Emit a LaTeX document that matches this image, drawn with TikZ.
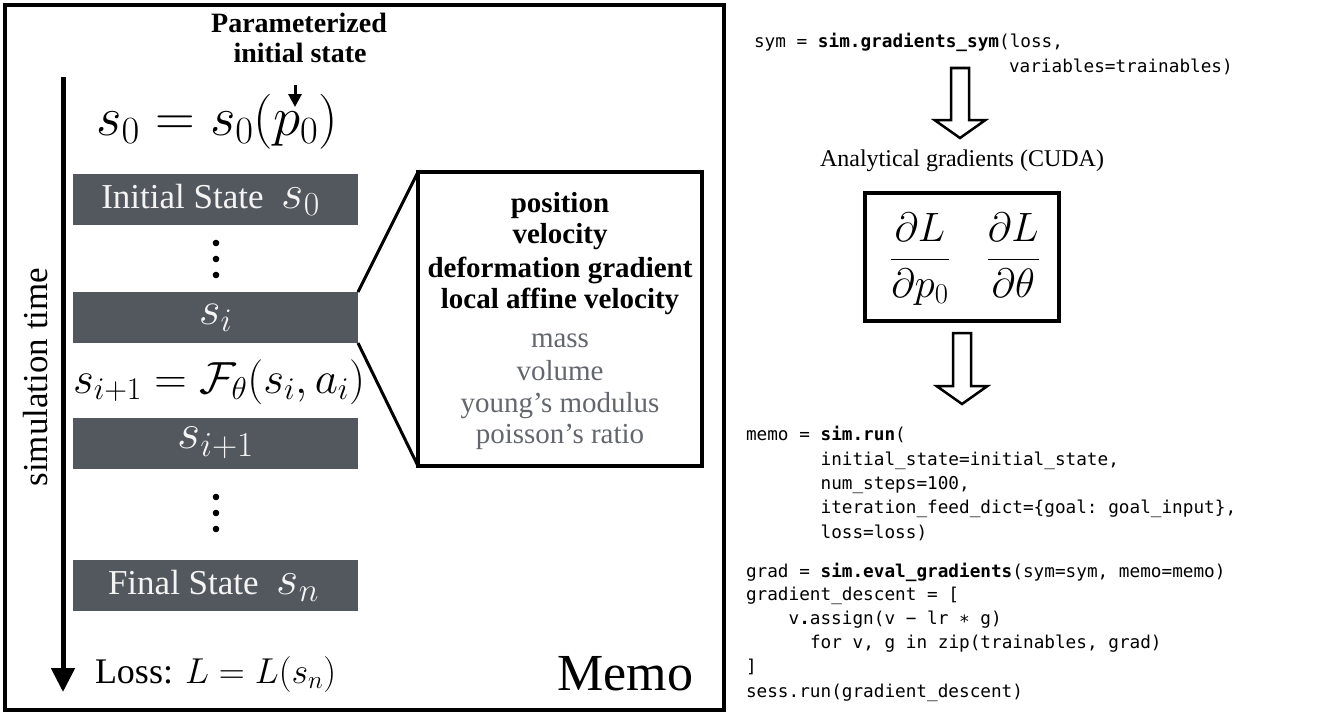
\RequirePackage{fix-cm}
\documentclass[tikz,border=0pt]{standalone}
\usepackage[no-math]{fontspec}
\setmainfont{Liberation Serif}
\setmonofont{DejaVu Sans Mono}
\usetikzlibrary{calc,arrows.meta}
\definecolor{boxgray}{HTML}{53575E}
\definecolor{softgray}{HTML}{63676D}
\definecolor{boxtext}{HTML}{F4F4F4}
\newcommand\fsz[1]{\fontsize{#1}{#1}\selectfont}
\newcommand\hollowdown[2]{%
  \draw[hollowarr] ($(#1)+(-9,0)$) -- ($(#2)+(-9,-18)$) -- ($(#2)+(-25.5,-18)$) -- (#2)
    -- ($(#2)+(25.5,-18)$) -- ($(#2)+(9,-18)$) -- ($(#1)+(9,0)$) -- cycle;}
\begin{document}
\begin{tikzpicture}[x=1pt,y=-1pt,
  every node/.style={inner sep=0pt, outer sep=0pt},
  stbox/.style={fill=boxgray, minimum width=285, minimum height=51, text=boxtext},
  frame/.style={draw, line width=4},
  lbl/.style={anchor=base},
  boldinfo/.style={anchor=base, font=\fsz{29}\bfseries},
  grayinfo/.style={anchor=base, font=\fsz{29}, text=softgray},
  code/.style={anchor=base west, font=\ttfamily\fsz{17.7}},
  hollowarr/.style={draw, fill=white, line width=2.5, line join=miter},
  dotm/.style={fill=black}
]
\useasboundingbox (0,0) rectangle (1343,717);

% left panel
\node[frame, anchor=north west, minimum width=719, minimum height=705] (panel) at (5,5) {};

\node[lbl, font=\fsz{28}\bfseries] (param1) at (299,33) {Parameterized};
\node[lbl, font=\fsz{28}\bfseries] (param2) at (300,63) {initial state};
\coordinate (ptip) at (295,107);
\draw[line width=3, shorten <=22pt, -{Triangle[length=13pt,width=13pt]}] (param2.south -| ptip) -- (ptip);

\node[lbl, font=\fsz{55}] (s0eq) at (217,135) {$s_0 = s_0(p_0)$};

\node[stbox] (init) at (215.5,199.5) {\hspace{-10pt}\fsz{35}Initial State\hspace{18pt}{\fsz{48}$s_0$}};
\fill[dotm] (216,243) circle (3.3) (216,259) circle (3.3) (216,275) circle (3.3);
\node[stbox] (si) at (215.5,317.5) {\fsz{47}$s_i$};
\node[lbl, font=\fsz{45}] (step) at (219,393) {$s_{i+1} = \mathcal{F}_\theta(s_i, a_i)$};
\node[stbox] (sip) at (215.5,443) {\fsz{50}$s_{i+1}$};
\fill[dotm] (216,497) circle (3.3) (216,513) circle (3.3) (216,529) circle (3.3);
\node[stbox] (final) at (215.5,585.5) {\hspace{-4pt}\fsz{35}Final State\hspace{18pt}{\fsz{48}$s_n$}};

\node[anchor=base west, font=\fsz{36}] (loss) at (95,683) {Loss: $L = L(s_n)$};
\node[anchor=base east, font=\fsz{52}] (memolbl) at (693,690) {Memo};

\node[rotate=90, anchor=base, font=\fsz{35}] (simtime) at (47,377) {simulation time};
\coordinate (tstart) at (63,77);
\coordinate (tend) at (63,692);
\draw[line width=5, -{Triangle[length=24pt,width=23pt]}] (tstart) -- (tend);

% info box
\node[frame, minimum width=284, minimum height=294] (info) at (560,319) {};
\draw[line width=3] (si.north east) -- (info.north west);
\draw[line width=3] (si.south east) -- (info.south west);
\node[boldinfo] (i1) at (560,212) {position};
\node[boldinfo] (i2) at (560,243) {velocity};
\node[boldinfo] (i3) at (560,277) {deformation gradient};
\node[boldinfo] (i4) at (560,308) {local affine velocity};
\node[grayinfo] (i5) at (560,347) {mass};
\node[grayinfo] (i6) at (560,380) {volume};
\node[grayinfo] (i7) at (560,412) {young’s modulus};
\node[grayinfo] (i8) at (560,443) {poisson’s ratio};

% right side
\node[code] (c1) at (754,48) {sym = \textbf{sim.gradients\_sym}(loss,};
\node[code] (c2) at (1009,72) {variables=trainables)};

\coordinate (a1s) at (960,68);
\coordinate (a1e) at (960,138);
\hollowdown{a1s}{a1e}

\node[lbl, font=\fsz{24}] (analyt) at (962,166) {Analytical gradients (CUDA)};

\node[frame, minimum width=194, minimum height=128] (gradbox) at (962,257) {};
\node[lbl, font=\fsz{41}] (gradmath) at (965,269) {$\displaystyle\frac{\partial L}{\partial p_0}\hspace{37pt}\frac{\partial L}{\partial \theta}$};

\coordinate (a2s) at (962,333);
\coordinate (a2e) at (962,404);
\hollowdown{a2s}{a2e}

\node[code] (m1) at (746,440) {memo = \textbf{sim.run}(};
\node[code] (m2) at (820.6,465) {initial\_state=initial\_state,};
\node[code] (m3) at (820.6,489) {num\_steps=100,};
\node[code] (m4) at (820.6,513) {iteration\_feed\_dict=\{goal: goal\_input\},};
\node[code] (m5) at (820.6,538) {loss=loss)};
\node[code] (g1) at (746,577) {grad = \textbf{sim.eval\_gradients}(sym=sym, memo=memo)};
\node[code] (g2) at (746,600) {gradient\_descent = [};
\node[code] (g3) at (788.6,624) {v\textbf{.}assign(v − lr ∗ g)};
\node[code] (g4) at (810,648) {for v, g in zip(trainables, grad)};
\node[code] (g5) at (746,672) {]};
\node[code] (g6) at (746,697) {sess.run(gradient\_descent)};
\end{tikzpicture}
\end{document}
